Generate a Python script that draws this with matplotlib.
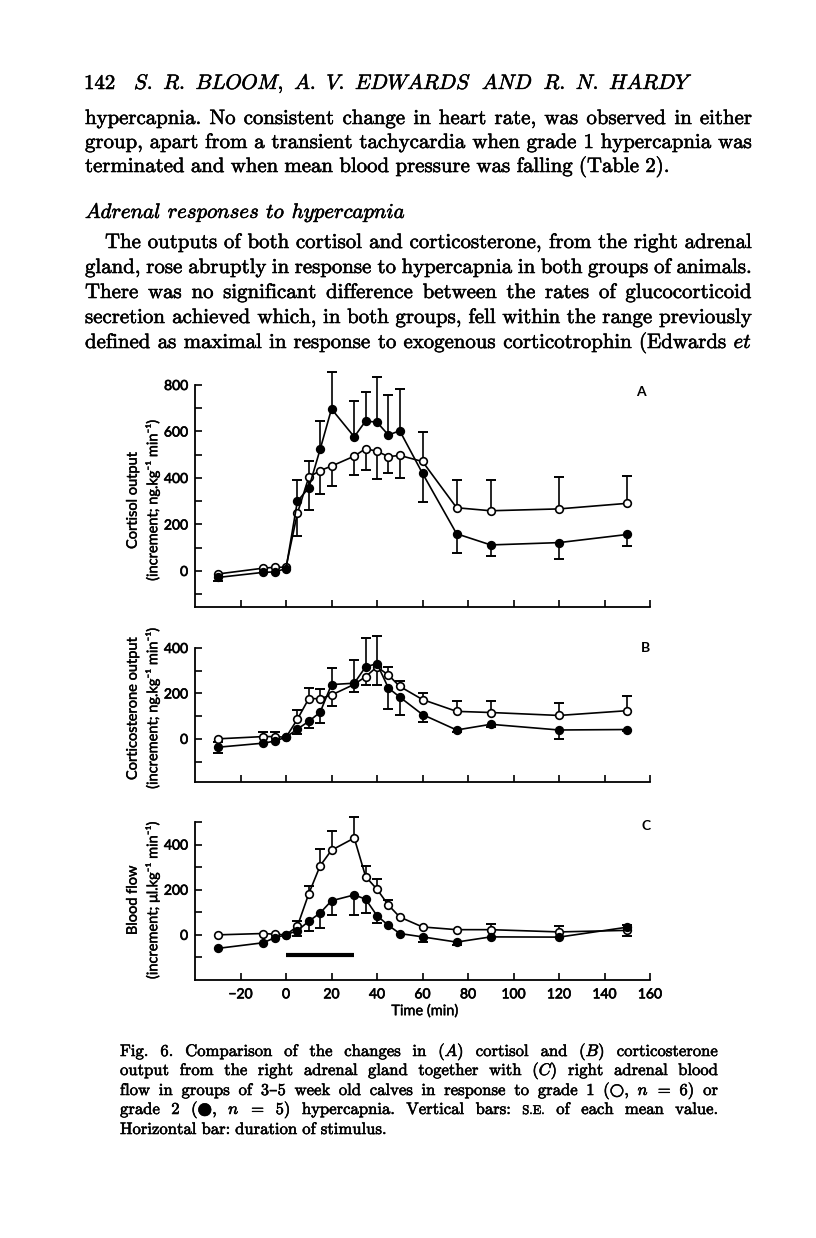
import matplotlib
matplotlib.use("Agg")
import matplotlib.pyplot as plt
import matplotlib.patheffects as pe
import numpy as np

# ---- data ----
times = [-30, -10, -5, 0, 5, 10, 15, 20, 30, 35, 40, 45, 50, 60, 75, 90, 120, 150]

# A: cortisol output; grade 1 = open circles, grade 2 = filled circles
cort_g1 = [-13, 12, 16, 16, 248, 403, 432, 451, 494, 526, 515, 492, 497, 471, 272, 259, 267, 291]
cort_g1_se = [0, 0, 0, 0, -97, -141, -102, -87, -80, -90, -120, -72, -97, 128, 118, 131, 136, 119]
cort_g2 = [-28, -6, -4, 10, 300, 357, 523, 697, 577, 645, 640, 585, 603, 420, 160, 112, 122, 157]
cort_g2_se = [-17, 0, 0, 0, 93, 115, 123, 160, 153, 125, 195, 172, 180, -123, -84, -48, -70, -51]

# B: corticosterone output
cost_g1 = [0, 10, 10, 7, 86, 177, 177, 193, 240, 274, 317, 281, 231, 173, 121, 116, 103, 124]
cost_g1_se = [-12, 18, 18, 0, 41, 47, 44, -47, -35, -35, -80, 36, 25, 30, 46, 51, 57, 65]
cost_g2 = [-37, -19, -10, 7, 43, 77, 117, 239, 245, 317, 331, 224, 184, 107, 39, 64, 39, 41]
cost_g2_se = [-24, 0, 0, 0, -23, -31, -47, 74, 101, 129, 122, -93, -81, -33, -8, -10, -39, -5]

# C: adrenal blood flow
flow_g1 = [0, 6, 3, 0, 38, 182, 306, 375, 429, 258, 202, 132, 79, 35, 23, 23, 13, 20]
flow_g1_se = [0, 0, 0, 0, 22, 36, 76, 84, 93, 48, 44, 23, 0, 0, 0, 25, 25, -23]
flow_g2 = [-60, -35, -13, 0, 19, 60, 97, 151, 177, 158, 85, 42, 6, -9, -32, -9, -10, 34]
flow_g2_se = [0, 0, 0, 0, -25, -41, -66, -62, -88, -61, -32, 0, 0, -23, -15, 0, 0, 10]

stimulus = [0, 30]      # duration of stimulus (min)
stimulus_level = -90

x_ticks = [-20, 0, 20, 40, 60, 80, 100, 120, 140, 160]

W, H = 816, 1238
plt.rcParams['mathtext.fontset'] = 'cm'
SERIF = ['cmr10', 'DejaVu Serif']
SANS = ['Lato', 'DejaVu Sans']
INK = [pe.withStroke(linewidth=0.4, foreground='k')]
INK_SANS = [pe.withStroke(linewidth=0.5, foreground='k')]

fig = plt.figure(figsize=(W / 100, H / 100), dpi=100)
rend = fig.canvas.get_renderer()


def text_line(words, y, x0, x1=None, size=15):
    # lay out a line word by word, justified between x0 and x1 (pixels)
    arts = []
    for w in words:
        kw = {}
        if isinstance(w, tuple):
            w, kw = w[0], dict(w[1])
        s = kw.pop('size', size)
        arts.append(fig.text(0, 0, w, family=SERIF, fontsize=s, va='baseline',
                             ha='left', path_effects=INK, **kw))
    widths = [a.get_window_extent(rend).width for a in arts]
    if x1 is None:
        gap = 0.3 * size * 100 / 72
    else:
        gap = (x1 - x0 - sum(widths)) / max(len(arts) - 1, 1)
    x = x0
    for a, w in zip(arts, widths):
        a.set_position((x / W, 1 - y / H))
        x += w + gap


# ---- page text ----
text_line(['142'], 89, 84)
text_line([r'$S.$', r'$R.$', r'$BLOOM,$', r'$A.$', r'$V.$', r'$EDWARDS$',
           r'$AND$', r'$R.$', r'$N.$', r'$HARDY$'], 89, 134, 693)

L, R = 85, 752
text_line('hypercapnia. No consistent change in heart rate, was observed in either'.split(), 124, L, R)
text_line('group, apart from a transient tachycardia when grade 1 hypercapnia was'.split(), 148, L, R)
text_line('terminated and when mean blood pressure was falling (Table 2).'.split(), 172, L)
text_line([r'$Adrenal$', r'$responses$', r'$to$', r'$hypercapnia$'], 218, L)
text_line('The outputs of both cortisol and corticosterone, from the right adrenal'.split(), 248, L + 20, R)
text_line('gland, rose abruptly in response to hypercapnia in both groups of animals.'.split(), 273, L, R)
text_line('There was no significant difference between the rates of glucocorticoid'.split(), 298, L, R)
text_line('secretion achieved which, in both groups, fell within the range previously'.split(), 323, L, R)
text_line('defined as maximal in response to exogenous corticotrophin (Edwards'.split() + [r'$et$'], 348, L, R)

CL, CR, cs = 120, 718, 12
text_line(['Fig.', '6.', 'Comparison', 'of', 'the', 'changes', 'in', r'$(A)$', 'cortisol',
           'and', r'$(B)$', 'corticosterone'], 1056, CL, CR, cs)
text_line(['output', 'from', 'the', 'right', 'adrenal', 'gland', 'together', 'with',
           r'$(C)$', 'right', 'adrenal', 'blood'], 1075, CL, CR, cs)
text_line(['flow', 'in', 'groups', 'of', '3–5', 'week', 'old', 'calves', 'in', 'response',
           'to', 'grade', '1', '(○,', r'$n$', '=', '6)', 'or'], 1095, CL, CR, cs)
text_line(['grade', '2', '(●,', r'$n$', '=', '5)', 'hypercapnia.', 'Vertical', 'bars:',
           ('S.E.', {'size': 9}), 'of', 'each', 'mean', 'value.'], 1114, CL, CR, cs)
text_line('Horizontal bar: duration of stimulus.'.split(), 1134, CL, None, cs)


# ---- panels ----
def panel(top, bottom, ylim, ticks, labelled):
    ax = fig.add_axes([195 / W, 1 - bottom / H, 455 / W, (bottom - top) / H])
    ax.set_xlim(-40, 160)
    ax.set_ylim(*ylim)
    for s in ('top', 'right'):
        ax.spines[s].set_visible(False)
    for s in ('left', 'bottom'):
        ax.spines[s].set_linewidth(1.3)
    ax.set_yticks(ticks)
    ax.set_yticklabels([str(t) if t in labelled else '' for t in ticks],
                       family=SANS, fontsize=10, path_effects=INK_SANS)
    ax.set_xticks(x_ticks)
    ax.set_xticklabels([])
    ax.tick_params(direction='in', length=5, width=1.2, pad=5)
    return ax


def series(ax, y, se, filled):
    x = np.array(times, float)
    y = np.array(y, float)
    se = np.array(se, float)
    m = se != 0
    ax.vlines(x[m], y[m], y[m] + se[m], color='k', lw=1.2, clip_on=False, zorder=2)
    ax.plot(x[m], (y + se)[m], ls='none', marker='_', ms=7, mew=1.4, color='k',
            clip_on=False, zorder=2)
    ax.plot(x, y, '-o', color='k', lw=1.2, ms=5.5, mew=1.2,
            mfc='k' if filled else 'white', mec='k', clip_on=False, zorder=3)


axA = panel(385, 607, (-155, 800), list(range(-100, 801, 100)), [0, 200, 400, 600, 800])
series(axA, cort_g1, cort_g1_se, False)
series(axA, cort_g2, cort_g2_se, True)

axB = panel(648, 782, (-190, 400), list(range(-100, 401, 100)), [0, 200, 400])
series(axB, cost_g1, cost_g1_se, False)
series(axB, cost_g2, cost_g2_se, True)

axC = panel(822, 980, (-200, 500), list(range(-100, 501, 100)), [0, 200, 400])
series(axC, flow_g1, flow_g1_se, False)
series(axC, flow_g2, flow_g2_se, True)
axC.plot(stimulus, [stimulus_level] * 2, color='k', lw=3, solid_capstyle='butt')
axC.set_xticklabels(['−20' if t < 0 else str(t) for t in x_ticks],
                    family=SANS, fontsize=10, path_effects=INK_SANS)
axC.tick_params(axis='x', pad=6)

fig.text(425 / W, 1 - 1011 / H, 'Time (min)', family=SANS, fontsize=10.5,
         ha='center', va='center', path_effects=[pe.withStroke(linewidth=0.3, foreground='k')])

ylabels = [('Cortisol output\n(increment; ng.kg⁻¹ min⁻¹)', 500),
           ('Corticosterone output\n(increment; ng.kg⁻¹ min⁻¹)', 708),
           ('Blood flow\n(increment; μl.kg⁻¹ min⁻¹)', 900)]
for txt, yc in ylabels:
    fig.text(143 / W, 1 - yc / H, txt, family=SANS, fontsize=10.5, rotation=90,
             ha='center', va='center', ma='center', linespacing=1.35,
             path_effects=[pe.withStroke(linewidth=0.3, foreground='k')])

for letter, x, y in [('A', 641, 392), ('B', 645, 648), ('C', 646, 826)]:
    fig.text(x / W, 1 - y / H, letter, family=SANS, fontsize=10, fontweight='bold',
             ha='center', va='center')

fig.savefig('out.png', dpi=100)
